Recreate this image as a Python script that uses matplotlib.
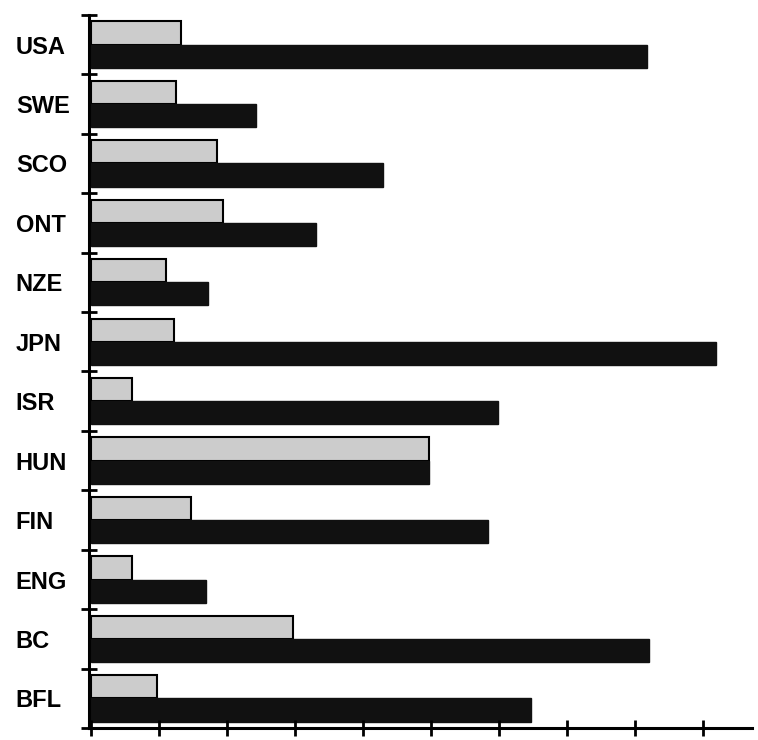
import numpy as np
import matplotlib.pyplot as plt

# categories top to bottom
countries = ['USA', 'SWE', 'SCO', 'ONT', 'NZE', 'JPN', 'ISR', 'HUN', 'FIN', 'ENG', 'BC', 'BFL']
# values in axis tick units (axis carries no numbers)
gray_vals = [1.33, 1.26, 1.85, 1.94, 1.11, 1.23, 0.60, 4.97, 1.48, 0.60, 2.98, 0.97]
black_vals = [8.18, 2.43, 4.30, 3.31, 1.73, 9.19, 5.98, 4.97, 5.84, 1.70, 8.20, 6.47]

fig = plt.figure(figsize=(7.58, 7.40), dpi=100)
ax = fig.add_axes([0.117, 0.016, 0.875, 0.964])

n = len(countries)
y = np.arange(n)
h = 0.39
ax.barh(y - h / 2, gray_vals, height=h, color='#cccccc', edgecolor='black', linewidth=1.5)
ax.barh(y + h / 2, black_vals, height=h, color='#111111', edgecolor='#111111', linewidth=1)

ax.set_ylim(n - 0.5, -0.5)
ax.set_xlim(-0.03, 9.72)

for s in ['top', 'right']:
    ax.spines[s].set_visible(False)
for s in ['left', 'bottom']:
    ax.spines[s].set_linewidth(2.2)

ax.set_xticks(np.arange(0, 10))
ax.set_xticklabels([])
ax.tick_params(axis='x', direction='inout', length=12, width=2)

# category boundaries get the cross ticks, labels sit at the centres
ax.set_yticks(np.arange(n + 1) - 0.5, minor=True)
ax.tick_params(axis='y', which='minor', direction='inout', length=12, width=2)
ax.set_yticks(y)
ax.set_yticklabels(countries, fontsize=17, fontweight='bold',
                   family=['Liberation Sans Narrow', 'Liberation Sans'], ha='left')
ax.tick_params(axis='y', which='major', length=0, pad=52.5)

fig.savefig('out.png', dpi=100)
